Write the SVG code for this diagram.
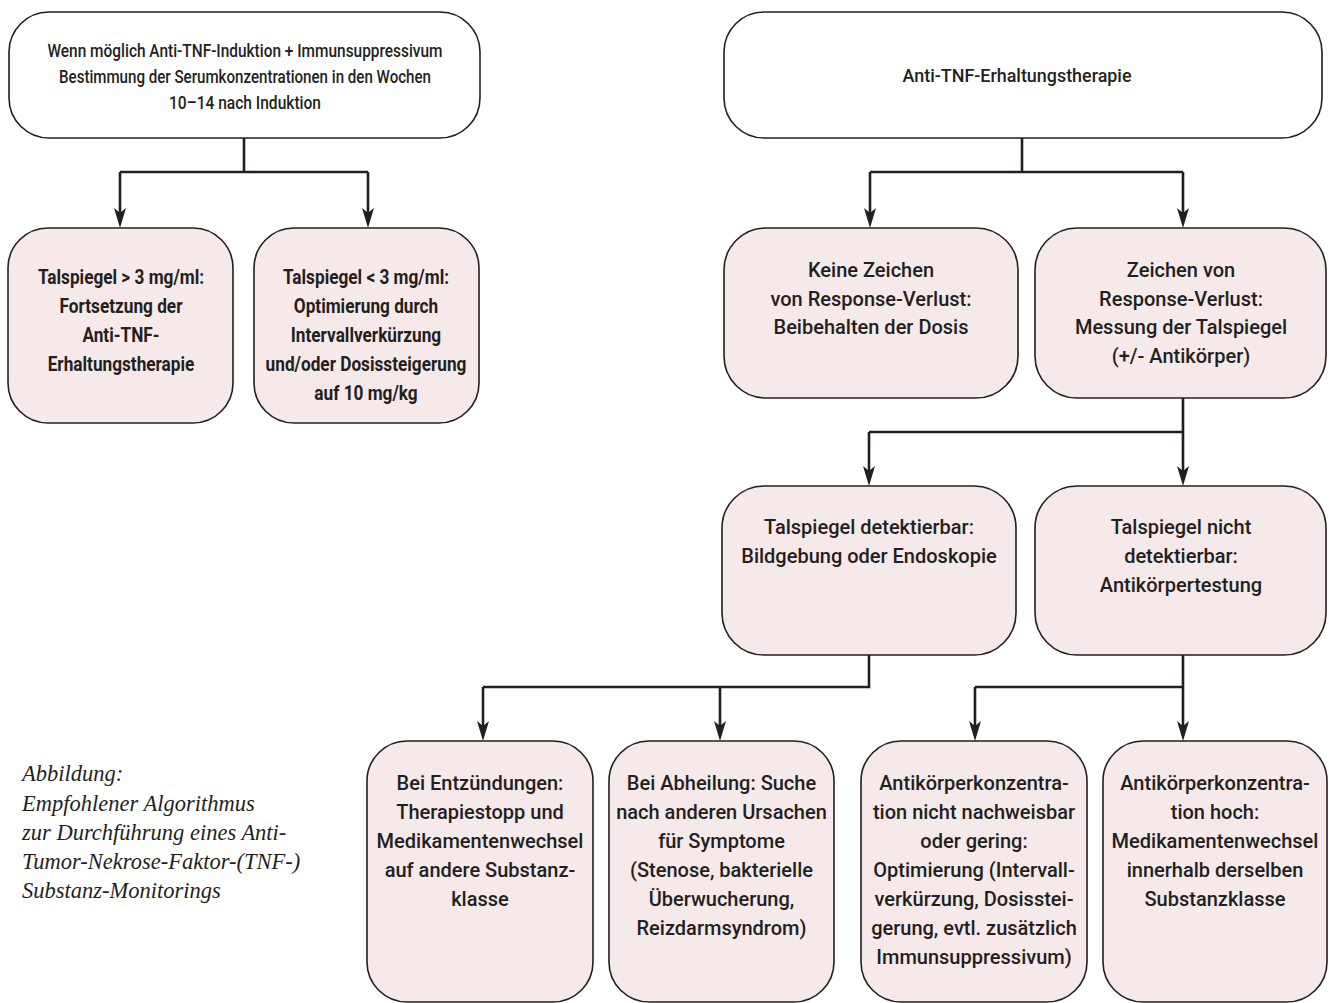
<svg xmlns="http://www.w3.org/2000/svg" width="1329" height="1003" viewBox="0 0 1329 1003">
<style>
.box{fill:#f6e9e9;stroke:#231f20;stroke-width:1.6}
.top{fill:#ffffff;stroke:#231f20;stroke-width:1.6}
.t{font-family:Roboto,"Liberation Sans",sans-serif;font-size:20px;font-weight:500;fill:#231f20;text-anchor:middle}
.tt{font-family:Roboto,"Liberation Sans",sans-serif;font-size:18.5px;font-weight:500;fill:#231f20;text-anchor:middle}
.tb{font-family:Roboto,"Liberation Sans",sans-serif;font-size:21px;font-weight:bold;fill:#231f20;text-anchor:middle}
.cap{font-family:"Liberation Serif","DejaVu Serif",serif;font-style:italic;font-size:22.5px;fill:#231f20}
.c{fill:none;stroke:#231f20;stroke-width:2.6}
.ah{fill:#231f20;stroke:none}
</style>

<g id="connectors">
<path class="c" d="M244,138 V172 M120,172 H368 M120,172 V214 M368,172 V214"/>
<path class="c" d="M1022,138 V172 M870,172 H1183 M870,172 V214 M1183,172 V214"/>
<path class="c" d="M1183,398 V432 M869,432 H1183 M869,432 V472 M1183,432 V472"/>
<path class="c" d="M869,655 V687 H483 M483,687 V727 M720,687 V727"/>
<path class="c" d="M1183,655 V687 H975 M975,687 V727 M1183,687 V727"/>
<path class="ah" d="M120,228 l-6,-20 l6,5 l6,-5 Z"/>
<path class="ah" d="M368,228 l-6,-20 l6,5 l6,-5 Z"/>
<path class="ah" d="M870,228 l-6,-20 l6,5 l6,-5 Z"/>
<path class="ah" d="M1183,228 l-6,-20 l6,5 l6,-5 Z"/>
<path class="ah" d="M869,486 l-6,-20 l6,5 l6,-5 Z"/>
<path class="ah" d="M1183,486 l-6,-20 l6,5 l6,-5 Z"/>
<path class="ah" d="M483,741 l-6,-20 l6,5 l6,-5 Z"/>
<path class="ah" d="M720,741 l-6,-20 l6,5 l6,-5 Z"/>
<path class="ah" d="M975,741 l-6,-20 l6,5 l6,-5 Z"/>
<path class="ah" d="M1183,741 l-6,-20 l6,5 l6,-5 Z"/>
</g>

<g id="n_start">
<rect class="top" x="9" y="12" width="471" height="126" rx="40"/>
<text class="tt" x="245" y="57" textLength="395" lengthAdjust="spacingAndGlyphs">Wenn möglich Anti-TNF-Induktion + Immunsuppressivum</text>
<text class="tt" x="245" y="83" textLength="372" lengthAdjust="spacingAndGlyphs">Bestimmung der Serumkonzentrationen in den Wochen</text>
<text class="tt" x="245" y="109" textLength="152" lengthAdjust="spacingAndGlyphs">10–14 nach Induktion</text>
</g>

<g id="n_erhalt">
<rect class="top" x="724" y="12" width="598" height="126" rx="40"/>
<text class="tt" x="1017" y="82" textLength="229" lengthAdjust="spacingAndGlyphs">Anti-TNF-Erhaltungstherapie</text>
</g>

<g id="n_hoch">
<rect class="box" x="8" y="228" width="225" height="195" rx="40"/>
<g transform="translate(121,0) scale(0.82,1)">
<text class="tb" x="0" y="284">Talspiegel &gt; 3 mg/ml:</text>
<text class="tb" x="0" y="313">Fortsetzung der</text>
<text class="tb" x="0" y="342">Anti-TNF-</text>
<text class="tb" x="0" y="371">Erhaltungstherapie</text>
</g>
</g>

<g id="n_niedrig">
<rect class="box" x="254" y="228" width="225" height="195" rx="40"/>
<g transform="translate(366,0) scale(0.82,1)">
<text class="tb" x="0" y="284">Talspiegel &lt; 3 mg/ml:</text>
<text class="tb" x="0" y="313">Optimierung durch</text>
<text class="tb" x="0" y="342">Intervallverkürzung</text>
<text class="tb" x="0" y="371">und/oder Dosissteigerung</text>
<text class="tb" x="0" y="400">auf 10 mg/kg</text>
</g>
</g>

<g id="n_keine">
<rect class="box" x="724" y="228" width="294" height="170" rx="42"/>
<text class="t" x="871" y="277">Keine Zeichen</text>
<text class="t" x="871" y="306">von Response-Verlust:</text>
<text class="t" x="871" y="334">Beibehalten der Dosis</text>
</g>

<g id="n_zeichen">
<rect class="box" x="1035" y="228" width="291" height="170" rx="42"/>
<text class="t" x="1181" y="277">Zeichen von</text>
<text class="t" x="1181" y="306">Response-Verlust:</text>
<text class="t" x="1181" y="334">Messung der Talspiegel</text>
<text class="t" x="1181" y="363">(+/- Antikörper)</text>
</g>

<g id="n_detekt">
<rect class="box" x="722" y="486" width="294" height="169" rx="42"/>
<text class="t" x="869" y="534">Talspiegel detektierbar:</text>
<text class="t" x="869" y="563">Bildgebung oder Endoskopie</text>
</g>

<g id="n_nichtdetekt">
<rect class="box" x="1035" y="486" width="291" height="169" rx="42"/>
<text class="t" x="1181" y="534">Talspiegel nicht</text>
<text class="t" x="1181" y="563">detektierbar:</text>
<text class="t" x="1181" y="592">Antikörpertestung</text>
</g>

<g id="n_entz">
<rect class="box" x="367" y="741" width="226" height="261" rx="40"/>
<text class="t" x="480" y="790">Bei Entzündungen:</text>
<text class="t" x="480" y="819">Therapiestopp und</text>
<text class="t" x="480" y="848">Medikamentenwechsel</text>
<text class="t" x="480" y="877">auf andere Substanz-</text>
<text class="t" x="480" y="906">klasse</text>
</g>

<g id="n_abheil">
<rect class="box" x="609" y="741" width="225" height="261" rx="40"/>
<text class="t" x="721.5" y="790">Bei Abheilung: Suche</text>
<text class="t" x="721.5" y="819">nach anderen Ursachen</text>
<text class="t" x="721.5" y="848">für Symptome</text>
<text class="t" x="721.5" y="877">(Stenose, bakterielle</text>
<text class="t" x="721.5" y="906">Überwucherung,</text>
<text class="t" x="721.5" y="935">Reizdarmsyndrom)</text>
</g>

<g id="n_akgering">
<rect class="box" x="861" y="741" width="226" height="261" rx="40"/>
<text class="t" x="974" y="790">Antikörperkonzentra-</text>
<text class="t" x="974" y="819">tion nicht nachweisbar</text>
<text class="t" x="974" y="848">oder gering:</text>
<text class="t" x="974" y="877">Optimierung (Intervall-</text>
<text class="t" x="974" y="906">verkürzung, Dosisstei-</text>
<text class="t" x="974" y="935">gerung, evtl. zusätzlich</text>
<text class="t" x="974" y="964">Immunsuppressivum)</text>
</g>

<g id="n_akhoch">
<rect class="box" x="1103" y="741" width="224" height="261" rx="40"/>
<text class="t" x="1215" y="790">Antikörperkonzentra-</text>
<text class="t" x="1215" y="819">tion hoch:</text>
<text class="t" x="1215" y="848">Medikamentenwechsel</text>
<text class="t" x="1215" y="877">innerhalb derselben</text>
<text class="t" x="1215" y="906">Substanzklasse</text>
</g>

<g id="caption">
<text class="cap" x="22" y="781">Abbildung:</text>
<text class="cap" x="22" y="811">Empfohlener Algorithmus</text>
<text class="cap" x="22" y="840">zur Durchführung eines Anti-</text>
<text class="cap" x="22" y="869">Tumor-Nekrose-Faktor-(TNF-)</text>
<text class="cap" x="22" y="898">Substanz-Monitorings</text>
</g>
</svg>
